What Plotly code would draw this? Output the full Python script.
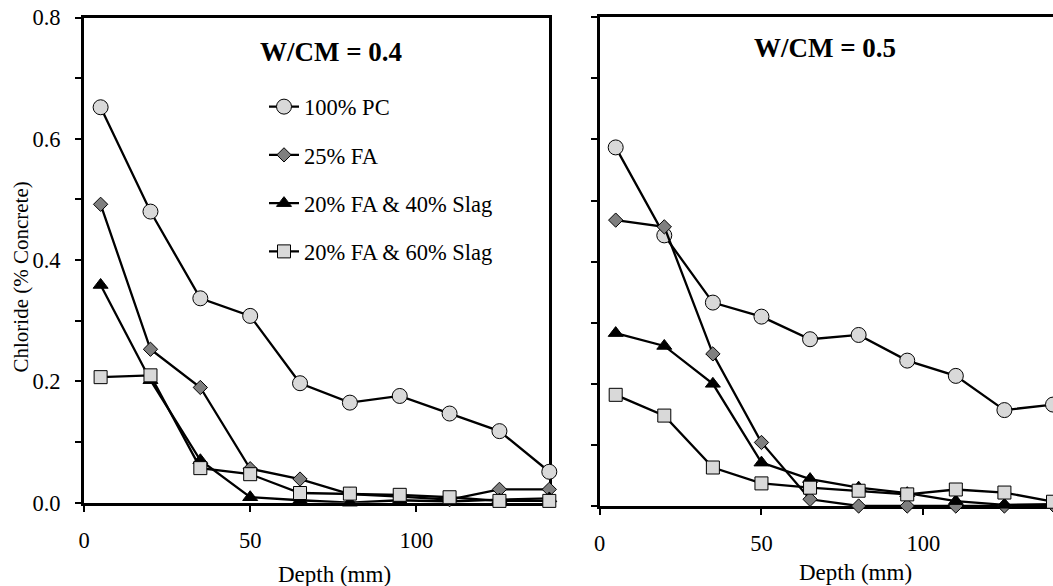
import plotly.graph_objects as go

# ---- data ----
depth = [5, 20, 35, 50, 65, 80, 95, 110, 125, 140]
series_names = ["100% PC", "25% FA", "20% FA & 40% Slag", "20% FA & 60% Slag"]

# W/CM = 0.4
pc_04 = [0.652, 0.480, 0.337, 0.308, 0.197, 0.165, 0.176, 0.147, 0.118, 0.051]
fa_04 = [0.492, 0.253, 0.190, 0.056, 0.039, 0.014, 0.010, 0.005, 0.022, 0.022]
fa40_04 = [0.359, 0.202, 0.070, 0.009, 0.004, 0.000, 0.004, 0.002, 0.005, 0.007]
fa60_04 = [0.207, 0.210, 0.057, 0.047, 0.016, 0.015, 0.013, 0.009, 0.003, 0.003]

# W/CM = 0.5
pc_05 = [0.587, 0.443, 0.333, 0.310, 0.273, 0.280, 0.238, 0.213, 0.157, 0.166]
fa_05 = [0.468, 0.457, 0.249, 0.104, 0.011, 0.000, 0.000, 0.000, 0.000, 0.002]
fa40_05 = [0.283, 0.262, 0.200, 0.071, 0.044, 0.030, 0.021, 0.008, 0.002, 0.003]
fa60_05 = [0.182, 0.148, 0.063, 0.037, 0.030, 0.025, 0.019, 0.027, 0.022, 0.007]

panel_titles = ["W/CM = 0.4", "W/CM = 0.5"]
x_title = "Depth (mm)"
y_title = "Chloride (% Concrete)"
x_ticks = [0, 50, 100]
y_ticks = [0.0, 0.2, 0.4, 0.6, 0.8]
y_minor = [0.1, 0.3, 0.5, 0.7]

# ---- styles ----
FONT = "Liberation Serif"
W, H = 1053, 586
styles = [
    dict(symbol="circle", size=15, color="#d9d9d9"),
    dict(symbol="diamond", size=11, color="#7f7f7f"),
    dict(symbol="triangle-up", size=13, color="#000000"),
    dict(symbol="square", size=13, color="#d9d9d9"),
]

fig = go.Figure()
panels = [
    ([pc_04, fa_04, fa40_04, fa60_04], "x", "y", True),
    ([pc_05, fa_05, fa40_05, fa60_05], "x2", "y2", False),
]
for data, xa, ya, show in panels:
    for name, vals, st, grp in zip(series_names, data, styles, "abcd"):
        fig.add_trace(go.Scatter(
            x=depth, y=vals, name=name, mode="lines+markers",
            xaxis=xa, yaxis=ya, showlegend=show, legendgroup=grp,
            line=dict(color="black", width=2.3),
            marker=dict(symbol=st["symbol"], size=st["size"], color=st["color"],
                        line=dict(color="black", width=1)),
            cliponaxis=False,
        ))

def px_x(p):
    return p / W

def px_y(p):
    return 1 - p / H

axis_common = dict(
    showgrid=False, zeroline=False, showline=True, linecolor="black", linewidth=3,
    ticks="outside", ticklen=6, tickwidth=1.5, tickcolor="black",
    tickfont=dict(family=FONT, size=22.5, color="black"),
    layer="below traces", automargin=False,
)
minor_ticks = dict(tickvals=y_minor, ticks="outside", ticklen=6,
                   tickwidth=1.5, tickcolor="black")

fig.update_layout(
    template="none",
    width=W, height=H,
    margin=dict(l=0, r=0, t=0, b=0, pad=0, autoexpand=False),
    paper_bgcolor="white", plot_bgcolor="white",
    font=dict(family=FONT, color="black"),
    xaxis=dict(domain=[px_x(84), px_x(549.3)], range=[0, 140], tickvals=x_ticks,
               mirror=True, anchor="y", ticklabelstandoff=9, **axis_common),
    yaxis=dict(domain=[px_y(502.7), px_y(17.5)], range=[0, 0.8], tickvals=y_ticks,
               tickformat=".1f", mirror=True, anchor="x", ticklabelstandoff=10,
               minor=minor_ticks, **axis_common),
    xaxis2=dict(domain=[px_x(599.5), 1.0], range=[0, 140], tickvals=x_ticks,
                mirror=True, anchor="y2", ticklabelstandoff=9, **axis_common),
    yaxis2=dict(domain=[px_y(506), px_y(17.3)], range=[0, 0.8], tickvals=y_ticks,
                showticklabels=False, mirror=False, anchor="x2",
                minor=minor_ticks, **axis_common),
    legend=dict(x=px_x(264), y=px_y(85.5), xanchor="left", yanchor="top",
                font=dict(family=FONT, size=22.5, color="black"),
                bgcolor="rgba(0,0,0,0)", borderwidth=0,
                tracegroupgap=16, traceorder="grouped"),
    showlegend=True,
)

annotations = [
    dict(text="<b>%s</b>" % panel_titles[0], x=px_x(331), y=px_y(51.7),
         font=dict(family=FONT, size=27, color="black")),
    dict(text="<b>%s</b>" % panel_titles[1], x=px_x(825), y=px_y(48.3),
         font=dict(family=FONT, size=27, color="black")),
    dict(text=y_title, x=px_x(20), y=px_y(277.5), textangle=-90,
         font=dict(family=FONT, size=21, color="black")),
    dict(text=x_title, x=px_x(334), y=px_y(574.3),
         font=dict(family=FONT, size=23, color="black")),
    dict(text=x_title, x=px_x(855), y=px_y(572.7),
         font=dict(family=FONT, size=23, color="black")),
]
for a in annotations:
    fig.add_annotation(xref="paper", yref="paper", xanchor="center", yanchor="middle",
                       showarrow=False, **a)

fig.write_html("out.html")
